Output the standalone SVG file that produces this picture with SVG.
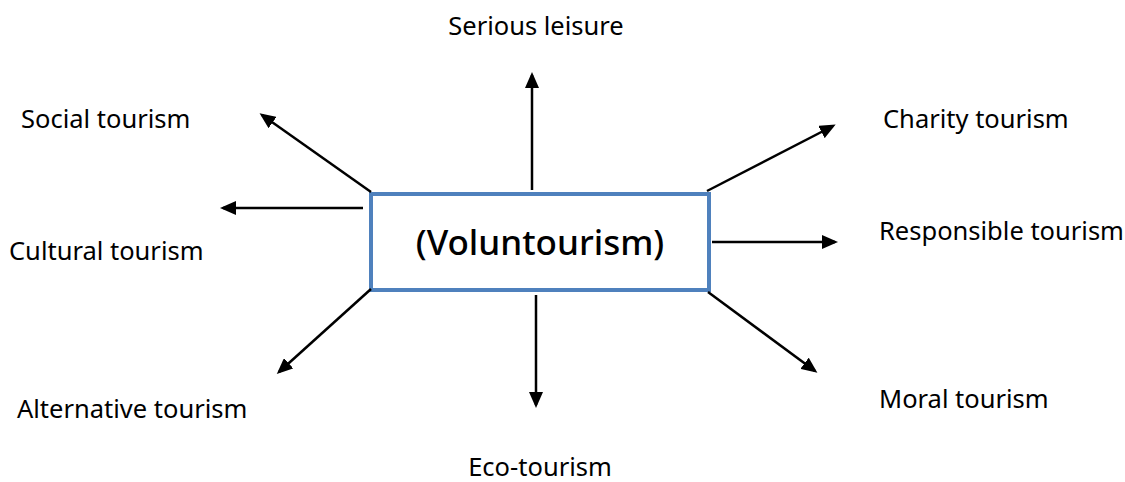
<svg xmlns="http://www.w3.org/2000/svg" width="1125" height="482" viewBox="0 0 1125 482">
<defs>
<marker id="ah" markerWidth="16" markerHeight="14" refX="13" refY="7" orient="auto" markerUnits="userSpaceOnUse" viewBox="0 0 16 14">
<path d="M0,0 L16,7 L0,14 Z" fill="#000"/>
</marker>
<style>
.lbl{font-family:"Noto Sans","Open Sans",sans-serif;font-size:25.5px;fill:#000}
.conn line{stroke:#000;stroke-width:2.5;marker-end:url(#ah)}
</style>
</defs>
<rect width="1125" height="482" fill="#fff"/>
<g id="center">
<rect x="371" y="194" width="338" height="96" fill="#fff" stroke="#4F81BD" stroke-width="4"/>
<text x="540" y="255" text-anchor="middle" style="font-family:'Noto Sans','Open Sans',sans-serif;font-size:35px;font-weight:500">(Voluntourism)</text>
</g>
<g class="conn" id="connectors">
<line x1="532" y1="190" x2="532" y2="75"/>
<line x1="371" y1="192" x2="262" y2="115"/>
<line x1="363" y1="208" x2="223" y2="208"/>
<line x1="707" y1="191" x2="833" y2="126"/>
<line x1="712" y1="242" x2="835" y2="242"/>
<line x1="708" y1="292" x2="815" y2="371"/>
<line x1="536" y1="295" x2="536" y2="405"/>
<line x1="371" y1="289" x2="279" y2="372"/>
</g>
<g id="n-serious"><text class="lbl" x="536" y="35" text-anchor="middle">Serious leisure</text></g>
<g id="n-social"><text class="lbl" x="21" y="128">Social tourism</text></g>
<g id="n-charity"><text class="lbl" x="883" y="128">Charity tourism</text></g>
<g id="n-cultural"><text class="lbl" x="9" y="260">Cultural tourism</text></g>
<g id="n-responsible"><text class="lbl" x="879" y="240">Responsible tourism</text></g>
<g id="n-alternative"><text class="lbl" x="17" y="418">Alternative tourism</text></g>
<g id="n-moral"><text class="lbl" x="879" y="408">Moral tourism</text></g>
<g id="n-eco"><text class="lbl" x="540" y="476" text-anchor="middle">Eco-tourism</text></g>
</svg>
